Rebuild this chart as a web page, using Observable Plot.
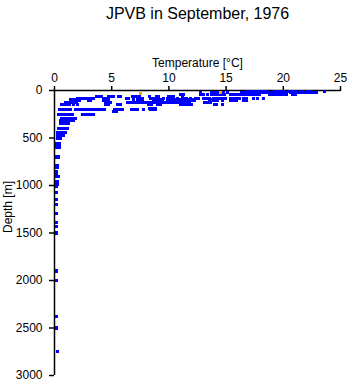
<!DOCTYPE html>
<html><head><meta charset="utf-8">
<script src="https://cdn.jsdelivr.net/npm/d3@7"></script>
<script src="https://cdn.jsdelivr.net/npm/@observablehq/plot@0.6"></script>
<style>body{margin:0;background:#fff}</style>
</head><body><div id="chart"></div>
<script>
const title = "JPVB in September, 1976";
const xLabel = "Temperature [°C]";
const yLabel = "Depth [m]";
const xTicks = [0, 5, 10, 15, 20, 25];
const yTicks = [0, 500, 1000, 1500, 2000, 2500, 3000];

// Depth levels (m) and the temperatures (°C) observed at each
const depthLevels = [8, 25, 45, 65, 80, 100, 122, 145, 190, 200, 225, 250, 295, 315, 350, 400, 445, 470, 500,
  560, 580, 605, 700, 790, 815, 850, 880, 905, 960, 990, 1010, 1075, 1150, 1200, 1295, 1385, 1430, 1500,
  1900, 2000, 2380, 2500, 2745];
const levelTemps = [
  [16.8,17.0,17.2,17.4,17.6,17.8,18.0,18.3,18.55,19.2,19.4,19.6,19.8,20.0,20.5,20.7,20.9,21.1,21.5,21.7,22.0,22.2,22.4,23.6],
  [12.8,13.75,13.9,14.1,14.26,14.8,15.1,16.36,16.6,16.89,17.0,17.25,17.5,17.75,18.0,18.25,18.5,18.75,19.0,19.25,19.5,19.75,20.0,20.25,20.65,20.9,21.15,21.4,21.65,21.9,22.15,22.4,22.65,22.9],
  [11.0,11.25,12.8,13.0,13.4,13.7,13.9,14.15,14.4,14.65,14.9,15.4,15.65,15.9,16.15,16.4,16.65,16.9,17.15,17.4,17.65,17.9,18.8,19.05,19.3,19.55,19.8,20.05,20.3,20.8,21.05],
  [3.67,3.9,4.15,4.7,4.95,5.15,5.6,5.8,6.8,7.0,7.25,7.45,8.3,8.95,9.1,9.97,10.15,10.4,11.2],
  [2.0,2.25,2.5,2.75,2.9,3.15,3.4,4.4,4.6,6.3,6.45,7.5,7.7,8.4,8.65,8.85,9.55,9.85,10.4,10.75,11.3,11.55,11.9,12.35,12.6,13.05,13.3,13.55,13.9,14.2,14.45,14.7,14.95,15.4,15.65,15.9,16.15,16.55,16.8,17.4,17.75,18.3],
  [1.4,1.65,1.9,2.15,3.0,3.15,4.3,4.55,4.75,6.9,7.25,7.5,7.7,8.65,8.9,9.15,9.45,9.9,10.15,10.4,10.65,10.9,11.15,11.4,11.65,11.85,12.0,12.25,13.55,13.8,14.0,14.25,14.65,15.4,15.65,15.9,16.55,16.8],
  [0.96,1.2,1.45,1.66,1.88,4.45,4.7,4.9,6.4,6.65,6.9,7.15,7.4,7.65,7.9,8.15,8.4,8.6,8.85,9.0,9.25,9.5,9.75,10.0,10.25,10.5,10.75,11.0,11.25,11.5,11.8,13.1,13.4,13.65],
  [0.6,0.85,1.1,1.35,1.7,2.0,4.5,4.7,5.55,5.75,8.2,8.5,9.0,9.25,11.05,11.25,11.55,11.8,12.0,13.95,14.15,14.65],
  [8.3,8.55,8.8],
  [0.45,0.7,0.95,1.2,1.4,1.85,2.1,2.35,2.6,2.85,3.1,3.35,3.6,3.85,4.1,4.35,5.25,5.5,5.75,5.95,6.75,7.0,7.25,7.75,8.4,8.65,8.85],
  [5.2,5.4],
  [0.35,0.6,0.85,1.1,1.35,1.6,2.45,2.7,2.9,3.05,3.3,3.4],
  [0.6,0.85,1.1,1.35,1.6,1.85],
  [0.5,0.75,1.0,1.25,1.5,1.65],
  [0.5,0.75,1.0,1.2],
  [0.35,0.6,0.85,1.1],
  [0.26,0.5,0.75,0.95],
  [0.3,0.55,0.75],
  [0.3,0.55],
  [0.2,0.4],
  [0.2,0.45],
  [0.2,0.4],
  [0.15,0.35],
  [0.15,0.3],
  [0.15,0.3],
  [0.15],
  [0.15],
  [0.15,0.35],
  [0.15,0.25],
  [0.15,0.25],
  [0.15],
  [0.15],
  [0.15],
  [0.15],
  [0.15],
  [0.15],
  [0.15],
  [0.15],
  [0.2],
  [0.2],
  [0.2],
  [0.2],
  [0.25]
];
// Flagged observations (orange)
const flaggedTemp = [7.5, 14.5];
const flaggedDepth = [28, 21];

const points = depthLevels.flatMap((d, i) => levelTemps[i].map(t => ({temperature: t, depth: d})));
const flagged = flaggedTemp.map((t, i) => ({temperature: t, depth: flaggedDepth[i]}));

const font = "'Liberation Sans', Arial, Helvetica, sans-serif";
const chart = Plot.plot({
  width: 348, height: 384,
  marginTop: 90, marginLeft: 54, marginRight: 8, marginBottom: 9,
  style: {fontFamily: font, fontSize: "12px", background: "#fff", color: "#000", overflow: "visible"},
  x: {domain: [0, 25]},
  y: {domain: [0, 3000], reverse: true},
  marks: [
    Plot.ruleY([0], {stroke: "#000", strokeWidth: 1.5}),
    Plot.ruleX([0], {stroke: "#000", strokeWidth: 1.5}),
    Plot.axisX({anchor: "top", ticks: xTicks, tickSize: 5, tickPadding: 4, label: null, tickFormat: "d", fontSize: 12, strokeWidth: 1.5}),
    Plot.axisY({anchor: "left", ticks: yTicks, tickSize: 5, tickPadding: 7, label: null, tickFormat: "d", fontSize: 12, strokeWidth: 1.5}),
    Plot.text([xLabel], {text: d => d, frameAnchor: "top", dy: -32, fontSize: 12}),
    Plot.text([yLabel], {text: d => d, frameAnchor: "left", dx: -46, rotate: -90, fontSize: 12}),
    Plot.text([title], {text: d => d, frameAnchor: "top", dy: -83, fontSize: 16}),
    Plot.dot(points, {x: "temperature", y: "depth", symbol: "square", r: 1.7, fill: "#0000ff", stroke: null, shapeRendering: "crispEdges"}),
    Plot.dot(flagged, {x: "temperature", y: "depth", symbol: "square", r: 1.7, fill: "orange", stroke: null, shapeRendering: "crispEdges"})
  ]
});
document.getElementById("chart").appendChild(chart);
</script>
</body></html>
